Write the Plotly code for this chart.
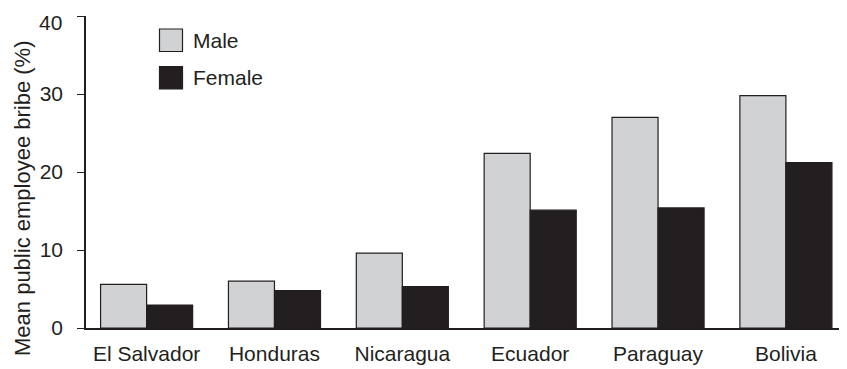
import plotly.graph_objects as go

countries = ["El Salvador", "Honduras", "Nicaragua", "Ecuador", "Paraguay", "Bolivia"]
male = [5.6, 6.0, 9.6, 22.4, 27.0, 29.8]
female = [2.95, 4.8, 5.3, 15.1, 15.4, 21.2]
series_names = ["Male", "Female"]
y_ticks = [0, 10, 20, 30, 40]
y_title = "Mean public employee bribe (%)"

INK = "#231f20"
GREY = "#d1d2d4"
FONT = "Liberation Sans, Arial, Helvetica, sans-serif"
FS = 21

fig = go.Figure()
fig.add_trace(go.Bar(x=countries, y=male, name=series_names[0],
                     marker=dict(color=GREY, line=dict(color=INK, width=1.2)),
                     showlegend=False))
fig.add_trace(go.Bar(x=countries, y=female, name=series_names[1],
                     marker=dict(color=INK, line=dict(color=INK, width=1.2)),
                     showlegend=False))

# the page body has an 8px margin, so the figure is shifted by 8px
OFF = 8
W, H = 847 - OFF, 369 - OFF
ml, mr, mt, mb = 86 - OFF, 1, 16 - OFF, 41
pw, ph = W - ml - mr, H - mt - mb

def px_to_paper_x(px):
    return (px - OFF - ml) / pw

def px_to_paper_y(py):
    return 1 - (py - OFF - mt) / ph

# manual legend (large swatches as in the reference)
legend_items = [(series_names[0], GREY), (series_names[1], INK)]
x0_px, w_px = 159.5, 23
y_tops = [29, 66.5]
for (name, col), yt in zip(legend_items, y_tops):
    fig.add_shape(type="rect", xref="paper", yref="paper",
                  x0=px_to_paper_x(x0_px), x1=px_to_paper_x(x0_px + w_px),
                  y0=px_to_paper_y(yt + 22.5), y1=px_to_paper_y(yt),
                  fillcolor=col, line=dict(color=INK, width=1.2))
    fig.add_annotation(xref="paper", yref="paper",
                       x=px_to_paper_x(x0_px + w_px + 8), y=px_to_paper_y(yt + 11.5),
                       text=name, showarrow=False, xanchor="left", yanchor="middle",
                       font=dict(family=FONT, size=FS, color=INK))

# y-axis title (sits lower than the plot centre in the reference)
fig.add_annotation(xref="paper", yref="paper",
                   x=px_to_paper_x(22.5), y=px_to_paper_y(198.5),
                   text=y_title, textangle=-90, showarrow=False,
                   xanchor="center", yanchor="middle",
                   font=dict(family=FONT, size=22, color=INK))

# top tick label is nudged down inside the figure in the reference
fig.add_annotation(xref="paper", yref="y", x=px_to_paper_x(64), y=y_ticks[-1],
                   yshift=-6.5, text=str(y_ticks[-1]), showarrow=False,
                   xanchor="right", yanchor="middle",
                   font=dict(family=FONT, size=FS, color=INK))

fig.update_layout(
    width=W, height=H,
    margin=dict(l=ml, r=mr, t=mt, b=mb, autoexpand=False),
    paper_bgcolor="white", plot_bgcolor="white",
    barmode="group", bargap=0.28, bargroupgap=0,
    font=dict(family=FONT, size=FS, color=INK),
    showlegend=False,
)
fig.update_xaxes(showline=True, linecolor=INK, linewidth=1.5, ticks="",
                 showgrid=False, zeroline=False, automargin=False,
                 range=[-0.474, 5.47], ticklabelstandoff=6,
                 tickfont=dict(family=FONT, size=FS, color=INK))
fig.update_yaxes(range=[0, 40], tickvals=y_ticks,
                 ticktext=[str(v) for v in y_ticks[:-1]] + [""],
                 showline=True, linecolor=INK,
                 linewidth=1.5, ticks="outside", ticklen=7, tickwidth=1.2,
                 tickcolor=INK, showgrid=False, zeroline=False, automargin=False,
                 ticklabelstandoff=10,
                 tickfont=dict(family=FONT, size=FS, color=INK))

fig.write_html("out.html")
